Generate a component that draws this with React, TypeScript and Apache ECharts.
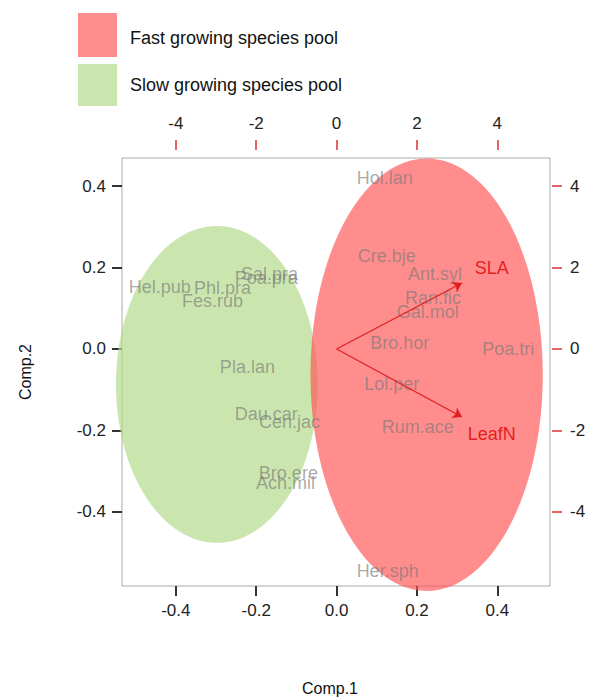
import React, { useEffect, useRef } from 'react';
import * as echarts from 'echarts';

const speciesNames = ['Hol.lan', 'Cre.bje', 'Ant.syl', 'Ran.fic', 'Gal.mol', 'Bro.hor', 'Poa.tri', 'Lol.per', 'Rum.ace', 'Her.sph',
  'Pla.lan', 'Dau.car', 'Cen.jac', 'Bro.ere', 'Ach.mil', 'Hel.pub', 'Phl.pra', 'Fes.rub', 'Sal.pra', 'Poa.pra'];
const speciesX = [0.12, 0.125, 0.245, 0.24, 0.227, 0.157, 0.427, 0.137, 0.202, 0.127,
  -0.222, -0.175, -0.117, -0.12, -0.127, -0.44, -0.284, -0.309, -0.167, -0.175];
const speciesY = [0.42, 0.228, 0.184, 0.125, 0.091, 0.015, 0.0, -0.086, -0.191, -0.545,
  -0.044, -0.16, -0.179, -0.304, -0.329, 0.152, 0.15, 0.118, 0.184, 0.174];

const traitNames = ['SLA', 'LeafN'];
const traitX = [0.312, 0.312];
const traitY = [0.162, -0.167];
const traitLabelX = [0.386, 0.386];
const traitLabelY = [0.2, -0.209];

// ellipse: cx, cy, rx, ry (in data units)
const poolNames = ['Slow growing species pool', 'Fast growing species pool'];
const poolEllipses = [[-0.298, -0.087, 0.251, 0.389], [0.224, -0.063, 0.289, 0.531]];
const poolColors = ['rgba(180,220,140,0.7)', 'rgba(255,80,80,0.65)'];

const xMin = -0.534, xMax = 0.531, yMin = -0.582, yMax = 0.469, scaleFactor = 10;
const mainTicks = [-0.4, -0.2, 0, 0.2, 0.4];
const secTicks = [-4, -2, 0, 2, 4];

export default function App() {
  const ref = useRef<HTMLDivElement>(null);
  useEffect(() => {
    if (!ref.current) return;
    const chart = echarts.init(ref.current, null, { renderer: 'svg' });
    const lbl = { color: '#222', fontSize: 17, fontFamily: 'Liberation Sans' };
    const mainAxis = (pos: string, min: number, max: number) => ({
      type: 'value', position: pos, min, max,
      splitLine: { show: false }, axisLine: { show: false, onZero: false },
      axisTick: { show: true, length: 10, lineStyle: { color: '#333', width: 2 }, customValues: mainTicks },
      axisLabel: { ...lbl, margin: 16, customValues: mainTicks, formatter: (v: number) => v.toFixed(1) },
    });
    const secAxis = (pos: string, min: number, max: number, offset: number) => ({
      type: 'value', position: pos, min: min * scaleFactor, max: max * scaleFactor, offset,
      splitLine: { show: false }, axisLine: { show: false, onZero: false },
      axisTick: { show: true, length: 10, lineStyle: { color: '#e03030', width: 1.5 }, customValues: secTicks },
      axisLabel: { ...lbl, margin: 18, customValues: secTicks, formatter: (v: number) => String(Math.round(v)) },
    });
    chart.setOption({
      animation: false,
      grid: { left: 122, top: 158, width: 428, height: 428, show: true, borderColor: '#aaa', borderWidth: 1 },
      xAxis: [mainAxis('bottom', xMin, xMax), secAxis('top', xMin, xMax, 8)],
      yAxis: [mainAxis('left', yMin, yMax), secAxis('right', yMin, yMax, 2)],
      graphic: [
        { type: 'rect', shape: { x: 78, y: 13, width: 39, height: 44 }, style: { fill: poolColors[1] } },
        { type: 'text', x: 130, y: 38, style: { text: poolNames[1], fill: '#111', fontSize: 18, fontFamily: 'Liberation Sans', verticalAlign: 'middle' } },
        { type: 'rect', shape: { x: 78, y: 64, width: 39, height: 42 }, style: { fill: poolColors[0] } },
        { type: 'text', x: 130, y: 85, style: { text: poolNames[0], fill: '#111', fontSize: 18, fontFamily: 'Liberation Sans', verticalAlign: 'middle' } },
        { type: 'text', x: 330, y: 688, style: { text: 'Comp.1', fill: '#111', fontSize: 16, fontFamily: 'Liberation Sans', align: 'center', verticalAlign: 'middle' } },
        { type: 'text', x: 25, y: 372, rotation: Math.PI / 2, style: { text: 'Comp.2', fill: '#111', fontSize: 16, fontFamily: 'Liberation Sans', align: 'center', verticalAlign: 'middle' } },
      ],
      series: [
        {
          type: 'custom', xAxisIndex: 0, yAxisIndex: 0, z: 1,
          data: poolEllipses.map((e, i) => [...e, i]),
          renderItem: (params: any, api: any) => {
            const c = api.coord([api.value(0), api.value(1)]);
            const s = api.size([api.value(2), api.value(3)]);
            return { type: 'ellipse', shape: { cx: c[0], cy: c[1], rx: s[0], ry: s[1] }, style: { fill: poolColors[api.value(4)] } };
          },
        },
        {
          type: 'scatter', xAxisIndex: 0, yAxisIndex: 0, z: 3, symbolSize: 0,
          data: speciesNames.map((n, i) => ({ name: n, value: [speciesX[i], speciesY[i]] })),
          label: { show: true, position: 'inside', formatter: '{b}', color: 'rgba(120,120,120,0.8)', fontSize: 18, fontFamily: 'Liberation Sans' },
        },
        {
          type: 'lines', coordinateSystem: 'cartesian2d', xAxisIndex: 0, yAxisIndex: 0, z: 4,
          symbol: ['none', 'arrow'], symbolSize: 9,
          lineStyle: { color: '#e02020', width: 1.3, opacity: 1 },
          data: traitNames.map((n, i) => ({ coords: [[0, 0], [traitX[i], traitY[i]]] })),
        },
        {
          type: 'scatter', xAxisIndex: 0, yAxisIndex: 0, z: 5, symbolSize: 0,
          data: traitNames.map((n, i) => ({ name: n, value: [traitLabelX[i], traitLabelY[i]] })),
          label: { show: true, position: 'inside', formatter: '{b}', color: '#e00000', fontSize: 18, fontFamily: 'Liberation Sans' },
        },
      ],
    });
    return () => chart.dispose();
  }, []);
  return <div ref={ref} style={{ position: 'absolute', left: 0, top: 0, width: 606, height: 699, background: '#fff' }} />;
}
